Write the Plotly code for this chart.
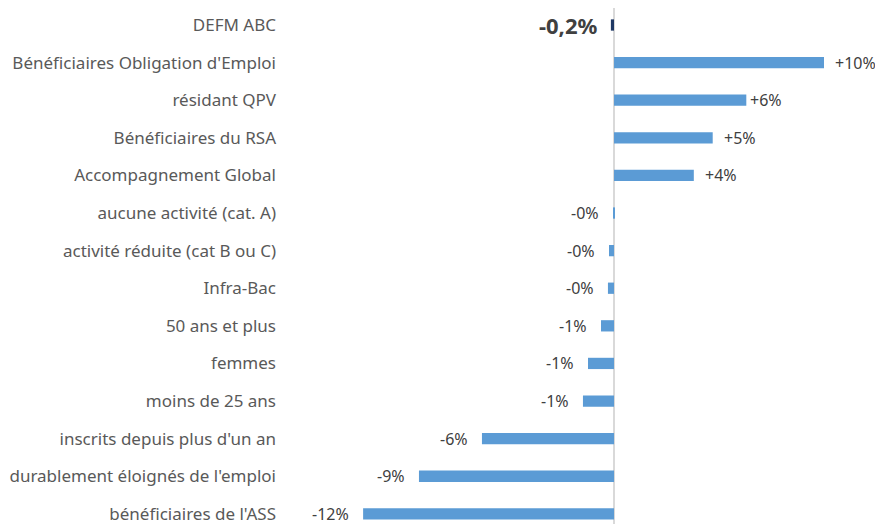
import plotly.graph_objects as go

categories = [
    "DEFM ABC",
    "Bénéficiaires Obligation d'Emploi",
    "résidant QPV",
    "Bénéficiaires du RSA",
    "Accompagnement Global",
    "aucune activité (cat. A)",
    "activité réduite (cat B ou C)",
    "Infra-Bac",
    "50 ans et plus",
    "femmes",
    "moins de 25 ans",
    "inscrits depuis plus d'un an",
    "durablement éloignés de l'emploi",
    "bénéficiaires de l'ASS",
]
values = [-0.15, 10.0, 6.3, 4.7, 3.8, -0.05, -0.24, -0.29, -0.62, -1.24, -1.48, -6.29, -9.29, -11.95]
value_labels = ["-0,2%", "+10%", "+6%", "+5%", "+4%", "-0%", "-0%", "-0%", "-1%", "-1%", "-1%", "-6%", "-9%", "-12%"]

FONT = "Noto Sans"
bar_colors = ["#1F3864"] + ["#5B9BD5"] * (len(categories) - 1)

fig = go.Figure()
fig.add_trace(go.Bar(
    y=categories, x=values, orientation="h",
    marker=dict(color=bar_colors, line=dict(width=0)),
    width=0.3,
    hoverinfo="skip",
))

for i, (cat, v, lab) in enumerate(zip(categories, values, value_labels)):
    first = i == 0
    if v > 0:
        shift = 2 if lab == "+6%" else 9
    else:
        shift = -12
    fig.add_annotation(
        x=v, y=cat, text=f"<b>{lab}</b>" if first else lab,
        xanchor="left" if v > 0 else "right",
        xshift=shift,
        showarrow=False,
        font=dict(family=FONT, size=22 if first else 16, color="#404040"),
    )

# page body has an 8px margin: figure drawn 8px right/down of the window origin
fig.update_layout(
    width=875, height=516,
    margin=dict(l=277, r=0, t=0, b=0),
    paper_bgcolor="white", plot_bgcolor="white",
    showlegend=False,
    font=dict(family=FONT, size=17, color="#595959"),
    xaxis=dict(range=[-15.67, 12.81], showgrid=False, showticklabels=False,
               zeroline=True, zerolinecolor="#D9D9D9", zerolinewidth=1.5),
    yaxis=dict(range=[13.27, -0.452], showgrid=False, zeroline=False,
               ticks="", ticklabelstandoff=8,
               tickfont=dict(family=FONT, size=17, color="#595959")),
)

fig.write_html("out.html")
